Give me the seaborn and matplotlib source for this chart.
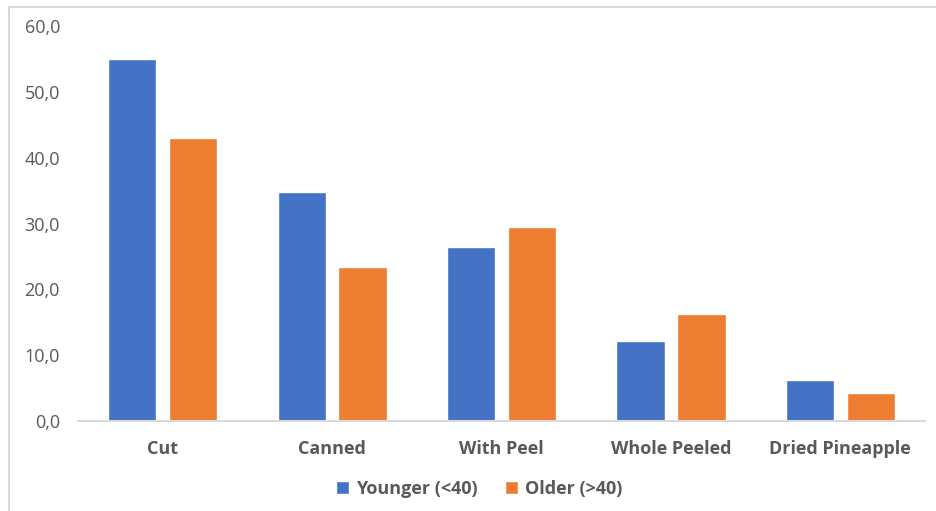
import matplotlib
matplotlib.use("Agg")
import matplotlib.pyplot as plt
from matplotlib.lines import Line2D
import seaborn as sns
import pandas as pd

categories = ["Cut", "Canned", "With Peel", "Whole Peeled", "Dried Pineapple"]
younger = [55.0, 34.8, 26.5, 12.1, 6.3]
older = [43.0, 23.4, 29.4, 16.2, 4.2]
series_names = ["Younger (<40)", "Older (>40)"]
yticks = [0, 10, 20, 30, 40, 50, 60]

df = pd.DataFrame({
    "category": categories * 2,
    "value": younger + older,
    "group": [series_names[0]] * len(categories) + [series_names[1]] * len(categories),
})

sns.set_theme(style="white")
plt.rcParams["font.family"] = ["Open Sans", "DejaVu Sans"]

text_color = "#595959"
fig = plt.figure(figsize=(9.36, 5.11), dpi=100)
ax = fig.add_axes([0.0833, 0.1761, 0.905, 0.773])

sns.barplot(
    data=df, x="category", y="value", hue="group",
    palette=["#4472C4", "#ED7D31"], width=0.72, gap=0.21,
    saturation=1, ax=ax, legend=True,
)

ax.set_ylim(0, 60)
ax.set_yticks(yticks)
ax.set_yticklabels([f"{v:.1f}".replace(".", ",") for v in yticks],
                   fontsize=13, color=text_color)
ax.set_xlim(-0.5, len(categories) - 0.5)
for lab in ax.get_xticklabels():
    lab.set_fontsize(13)
    lab.set_fontweight("bold")
    lab.set_color(text_color)
ax.tick_params(axis="y", length=0, pad=13)
ax.tick_params(axis="x", length=0, pad=14)
ax.set_xlabel("")
ax.set_ylabel("")
for side in ["top", "right", "left"]:
    ax.spines[side].set_visible(False)
ax.spines["bottom"].set_color("#D9D9D9")
ax.spines["bottom"].set_linewidth(1.5)

handles, labels = ax.get_legend_handles_labels()
ax.legend_.remove()
fig.legend(handles, labels, loc="center", bbox_to_anchor=(0.512, 1 - 489 / 511),
           ncol=2, frameon=False, handlelength=0.7, handleheight=0.7,
           columnspacing=1.5, handletextpad=0.4,
           prop={"size": 13, "weight": "bold"}, labelcolor=text_color)

# chart-area frame (left and top edges)
fig.add_artist(Line2D([9 / 936, 9 / 936], [0, 1 - 7 / 511], transform=fig.transFigure,
                      color="#D9D9D9", linewidth=1.5))
fig.add_artist(Line2D([9 / 936, 1], [1 - 7 / 511, 1 - 7 / 511], transform=fig.transFigure,
                      color="#D9D9D9", linewidth=1.5))

fig.savefig("out.png", dpi=100)
